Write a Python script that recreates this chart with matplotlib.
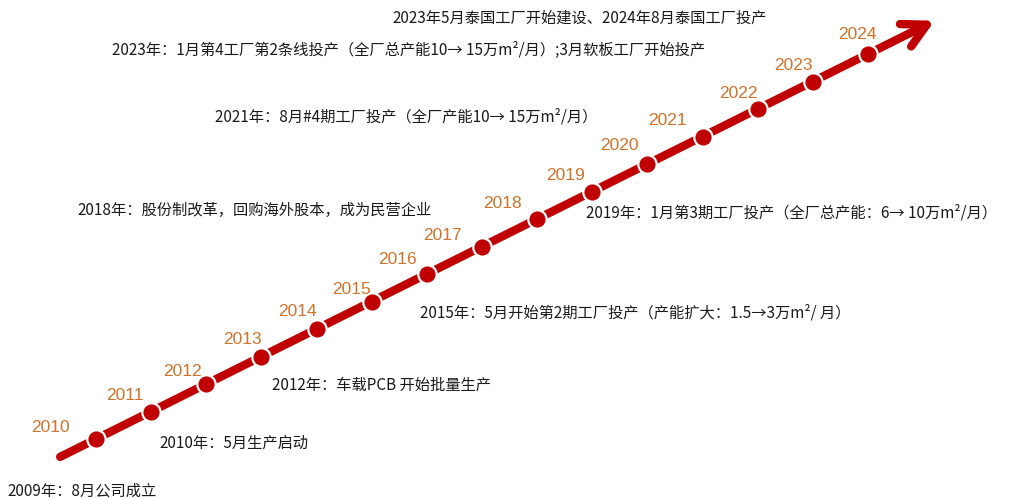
import matplotlib
matplotlib.use("Agg")
import matplotlib.pyplot as plt

plt.rcParams['font.family'] = ['Noto Sans CJK SC', 'DejaVu Sans']

# timeline data
years = list(range(2010, 2025))
events = [
    "2023年5月泰国工厂开始建设、2024年8月泰国工厂投产",
    "2023年：1月第4工厂第2条线投产（全厂总产能10→ 15万m²/月）;3月软板工厂开始投产",
    "2021年：8月#4期工厂投产（全厂产能10→ 15万m²/月）",
    "2018年：股份制改革，回购海外股本，成为民营企业",
    "2019年：1月第3期工厂投产（全厂总产能：6→ 10万m²/月）",
    "2015年：5月开始第2期工厂投产（产能扩大：1.5→3万m²/ 月）",
    "2012年：车载PCB 开始批量生产",
    "2010年：5月生产启动",
    "2009年：8月公司成立",
]

# layout (pixels from top-left): horizontal and vertical centre of each event line
event_pos = [(580, 18), (409, 50), (406, 117), (255, 210), (792, 213),
             (635, 313), (381, 385), (234, 443), (82, 491)]
# year label offsets from the dot, in pixels (dx right, dy up)
label_off = [(-46, 11), (-26, 16), (-24, 13), (-19, 17), (-19, 17),
             (-20, 12), (-29, 15), (-40, 11), (-35, 15), (-27, 16),
             (-28, 19), (-35, 16), (-19, 16), (-19, 16), (-11, 20)]

W, H = 1015, 499
RED = "#C00000"
ORANGE = "#D2722A"

fig = plt.figure(figsize=(W / 100, H / 100), dpi=100)
ax = fig.add_axes([0, 0, 1, 1])
# map years so that the dots sit on the diagonal
ax.set_xlim(2010 - 96 / 55.14, 2010 + (W - 96) / 55.14)
ax.set_ylim(2010 - (H - 439) / 27.5, 2010 + 439 / 27.5)
ax.axis("off")

ax.annotate("", xy=(2025.21, 2025.21), xytext=(2009.35, 2009.35),
            arrowprops=dict(arrowstyle="->,head_length=1.7,head_width=0.9",
                            color=RED, lw=6, capstyle="round",
                            joinstyle="round", shrinkA=0, shrinkB=0))

ax.scatter(years, years, s=175, color=RED, edgecolor="white",
           linewidth=1.6, zorder=3)

for yr, (dx, dy) in zip(years, label_off):
    ax.annotate(str(yr), (yr, yr), xytext=(dx * 0.72, dy * 0.72),
                textcoords="offset points", ha="center", va="center",
                color=ORANGE, fontsize=12.5, family="Liberation Sans")

for txt, (px, py) in zip(events, event_pos):
    fig.text(px / W, 1 - py / H, txt, ha="center", va="center",
             fontsize=11, color="#1a1a1a")

fig.savefig("out.png", dpi=100)
